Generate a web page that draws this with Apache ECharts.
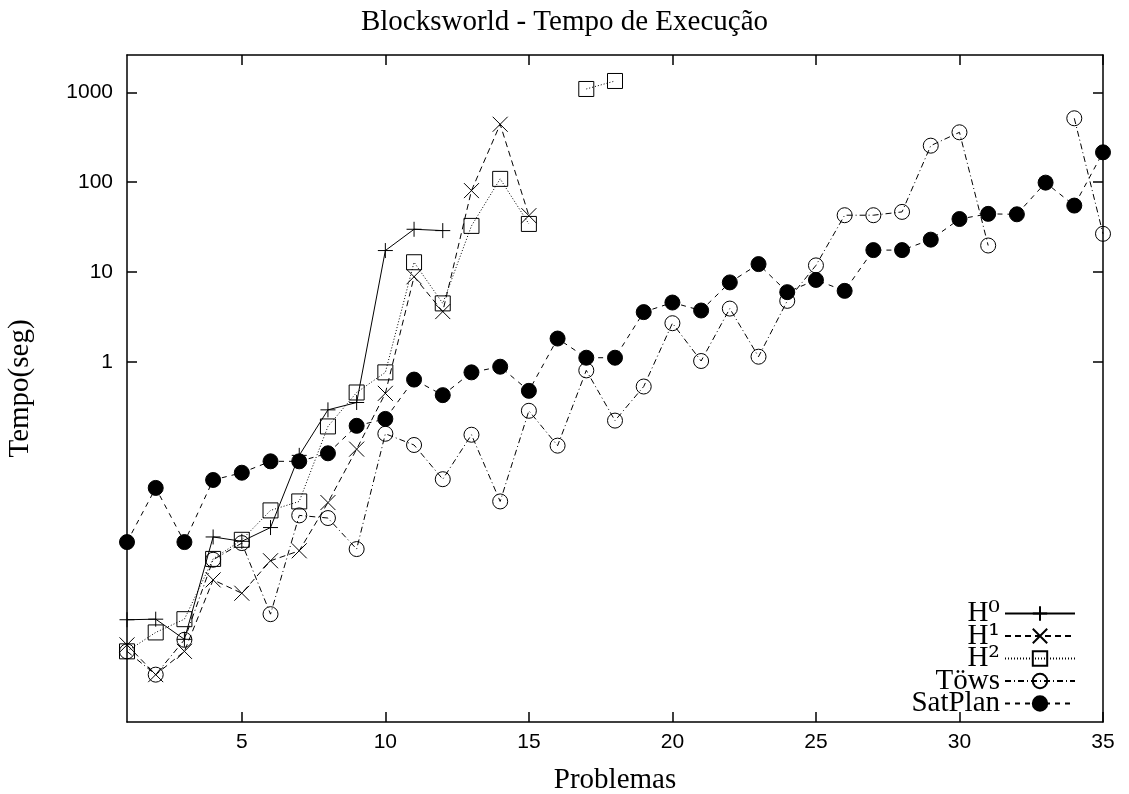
<!DOCTYPE html>
<html lang="pt">
<head>
    <meta charset="UTF-8">
    <script src="https://cdn.jsdelivr.net/npm/echarts@6/dist/echarts.min.js"></script>
    <title>Blocksworld - Tempo de Execução</title>
</head>
<body style="margin:0">
<div id="main" style="width:1129px;height:794px;"></div>

<script type="text/javascript">
    // problemas 1..35
    var problems = [1, 2, 3, 4, 5, 6, 7, 8, 9, 10, 11, 12, 13, 14, 15, 16, 17, 18,
        19, 20, 21, 22, 23, 24, 25, 26, 27, 28, 29, 30, 31, 32, 33, 34, 35];
    var xTicks = [5, 10, 15, 20, 25, 30, 35];
    var yTicks = [1, 10, 100, 1000];
    var names = ['H⁰', 'H¹', 'H²', 'Töws', 'SatPlan'];

    // tempos (seg), null = sem resultado
    var h0 = [0.00137, 0.00139, 0.00083, 0.0114, 0.0102, 0.0145, 0.092, 0.295, 0.356, 17.4,
        30, 29];
    var h1 = [0.00072, 0.000336, 0.00061, 0.0038, 0.0027, 0.0062, 0.008, 0.0275, 0.108, 0.45,
        8.9, 3.65, 80.7, 441, 42.5];
    var h2 = [0.00061, 0.00099, 0.00139, 0.0065, 0.0106, 0.0225, 0.0283, 0.193, 0.46, 0.77,
        12.9, 4.5, 32.7, 109, 34.4, null, 1088, 1335];
    var tows = [0.00061, 0.000336, 0.00082, 0.00636, 0.00975, 0.00158, 0.0198, 0.0185, 0.00836, 0.16,
        0.12, 0.05, 0.156, 0.0283, 0.288, 0.118, 0.81, 0.224, 0.536, 2.71,
        1.03, 3.94, 1.15, 4.8, 11.9, 43, 43, 46.8, 255, 359,
        19.8, null, null, 514, 26.7];
    var satplan = [0.01, 0.04, 0.01, 0.049, 0.059, 0.079, 0.079, 0.097, 0.196, 0.234,
        0.64, 0.43, 0.77, 0.89, 0.48, 1.83, 1.12, 1.12, 3.6, 4.6,
        3.75, 7.7, 12.3, 6.0, 8.2, 6.2, 17.6, 17.6, 23, 39,
        44.5, 44, 99, 55, 215];

    function pairs(values) {
        return problems.map(function (p, i) {
            var v = values[i];
            return [p, v == null ? null : v];
        });
    }

    var plusPath = 'path://M0,5L10,5M5,0L5,10';
    var crossPath = 'path://M0,0L10,10M10,0L0,10';

    function lineSeries(name, values, symbol, size, dash, fill) {
        return {
            name: name,
            type: 'line',
            xAxisIndex: 0,
            yAxisIndex: 0,
            data: pairs(values),
            connectNulls: false,
            symbol: symbol,
            symbolSize: size,
            showAllSymbol: true,
            itemStyle: {
                color: fill,
                borderColor: '#000',
                borderWidth: 1
            },
            lineStyle: {
                color: '#000',
                width: 1,
                type: dash
            },
            emphasis: {disabled: true},
            animation: false
        };
    }

    var myChart = echarts.init(document.getElementById('main'));

    var axisLineStyle = {color: '#000', width: 1.5};
    var serif = '"Liberation Serif", "Times New Roman", serif';
    var sans = '"Liberation Sans", Arial, sans-serif';

    var option = {
        backgroundColor: '#fff',
        title: {
            text: 'Blocksworld - Tempo de Execução',
            left: 'center',
            top: 8,
            padding: 0,
            textStyle: {
                fontFamily: serif,
                fontWeight: 'normal',
                fontSize: 29,
                color: '#000'
            }
        },
        grid: {left: 127, right: 26, top: 55, bottom: 72, outerBoundsMode: 'none'},
        legend: {
            orient: 'vertical',
            align: 'right',
            right: 53,
            bottom: 76,
            padding: 0,
            itemWidth: 70,
            itemHeight: 18,
            itemGap: -6.5,
            data: names,
            formatter: function (name) {
                // H⁰ H¹ H²: expoente com DejaVu Serif, que tem os algarismos sobrescritos maiores
                if (name.charAt(0) === 'H' && name.length === 2) {
                    return '{b|H}{s|' + name.charAt(1) + '}';
                }
                return '{b|' + name + '}';
            },
            textStyle: {
                color: '#000',
                fontFamily: serif,
                fontSize: 29,
                rich: {
                    b: {fontFamily: serif, fontSize: 29, color: '#000'},
                    s: {fontFamily: '"DejaVu Serif"', fontSize: 29, color: '#000'}
                }
            }
        },
        xAxis: [{
            type: 'value',
            min: 1,
            max: 35,
            position: 'bottom',
            name: 'Problemas',
            nameLocation: 'middle',
            nameGap: 44,
            nameTextStyle: {fontFamily: serif, fontSize: 29, color: '#000'},
            axisLine: {show: true, lineStyle: axisLineStyle},
            axisTick: {inside: true, length: 10, customValues: xTicks, lineStyle: axisLineStyle},
            axisLabel: {customValues: xTicks, margin: 10, fontFamily: sans, fontSize: 21, color: '#000'},
            splitLine: {show: false}
        }, {
            type: 'value',
            min: 1,
            max: 35,
            position: 'top',
            axisLine: {show: true, lineStyle: axisLineStyle},
            axisTick: {inside: true, length: 10, customValues: xTicks, lineStyle: axisLineStyle},
            axisLabel: {show: false},
            splitLine: {show: false}
        }],
        yAxis: [{
            type: 'log',
            logBase: 10,
            min: 0.0001,
            max: 2596,
            position: 'left',
            name: 'Tempo(seg)',
            nameLocation: 'middle',
            nameGap: 92,
            nameTextStyle: {fontFamily: serif, fontSize: 29, color: '#000'},
            axisLine: {show: true, lineStyle: axisLineStyle},
            axisTick: {inside: true, length: 10, customValues: yTicks, lineStyle: axisLineStyle},
            axisLabel: {
                customValues: yTicks,
                margin: 14,
                fontFamily: sans,
                fontSize: 21,
                color: '#000',
                formatter: function (v) { return String(Math.round(v)); }
            },
            splitLine: {show: false}
        }, {
            type: 'log',
            logBase: 10,
            min: 0.0001,
            max: 2596,
            position: 'right',
            axisLine: {show: true, lineStyle: axisLineStyle},
            axisTick: {inside: true, length: 10, customValues: yTicks, lineStyle: axisLineStyle},
            axisLabel: {show: false},
            splitLine: {show: false}
        }],
        series: [
            lineSeries(names[0], h0, plusPath, 15, 'solid', 'rgba(0,0,0,0)'),
            lineSeries(names[1], h1, crossPath, 15, [6, 4], 'rgba(0,0,0,0)'),
            lineSeries(names[2], h2, 'rect', 15, [1, 2], 'rgba(0,0,0,0)'),
            lineSeries(names[3], tows, 'circle', 15, [6, 3, 1, 3], 'rgba(0,0,0,0)'),
            lineSeries(names[4], satplan, 'circle', 15, [5, 5], '#000')
        ]
    };
    myChart.setOption(option);
</script>
</body>
</html>
